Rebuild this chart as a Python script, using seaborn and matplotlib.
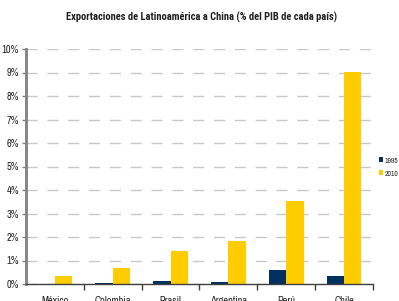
import matplotlib
matplotlib.use("Agg")
import matplotlib.pyplot as plt
import seaborn as sns
import pandas as pd
from matplotlib.ticker import FuncFormatter, FixedLocator
from matplotlib.patches import Patch

paises = ["México", "Colombia", "Brasil", "Argentina", "Perú", "Chile"]
v1995 = [0.01, 0.03, 0.14, 0.07, 0.61, 0.35]
v2010 = [0.36, 0.66, 1.42, 1.85, 3.52, 9.03]
anios = ["1995", "2010"]
colores = ["#00305E", "#FFCC00"]

df = pd.DataFrame({
    "pais": paises * 2,
    "anio": [anios[0]] * len(paises) + [anios[1]] * len(paises),
    "valor": v1995 + v2010,
})

sns.set_theme(style="white")
plt.rcParams['font.family'] = ['Archivo Narrow', 'Liberation Sans', 'DejaVu Sans']

fig = plt.figure(figsize=(3.99, 3.01), dpi=100)
ax = fig.add_axes([26/399, 1-284/301, 347/399, 235/301])

sns.barplot(data=df, x="pais", y="valor", hue="anio", palette=colores,
            width=0.6, gap=0, ax=ax, legend=False, saturation=1, linewidth=0)

ax.set_ylim(0, 10)
ax.set_xlim(-0.5, 5.5)
ax.yaxis.set_major_locator(FixedLocator(range(0, 11)))
ax.yaxis.set_major_formatter(FuncFormatter(lambda v, p: f"{int(v)}%"))
ax.yaxis.grid(True, color="#C8C8C8", linestyle=(0, (8, 7)), linewidth=1)
ax.set_axisbelow(True)
ax.set_xlabel("")
ax.set_ylabel("")

for s in ["top", "right"]:
    ax.spines[s].set_visible(False)
ax.spines["left"].set_color("#808080")
ax.spines["left"].set_linewidth(2)
ax.spines["bottom"].set_color("#404040")
ax.spines["bottom"].set_linewidth(1)

ax.tick_params(axis="y", which="major", left=True, length=3, width=1, color="#808080",
               labelsize=7.5, pad=2, labelcolor="#222222")
ax.tick_params(axis="x", which="major", bottom=False, labelsize=7.5, pad=3, labelcolor="#222222")
ax.xaxis.set_minor_locator(FixedLocator([0.5, 1.5, 2.5, 3.5, 4.5, 5.5]))
ax.tick_params(axis="x", which="minor", bottom=True, length=4, width=1, color="#404040")

fig.text(201/399, 1-17/301, "Exportaciones de Latinoamérica a China (% del PIB de cada país)",
         ha="center", va="center", fontsize=7.6, fontweight="bold", color="#222222",
         family=['Roboto Condensed', 'DejaVu Sans'])

handles = [Patch(facecolor=c, edgecolor="none") for c in colores]
fig.legend(handles, anios, loc="center left", bbox_to_anchor=(374/399, 1-167/301),
           frameon=False, fontsize=5.5, handlelength=0.45, handleheight=0.6,
           handletextpad=0.25, labelspacing=0.9, borderpad=0.2)

fig.savefig("out.png", dpi=100)
